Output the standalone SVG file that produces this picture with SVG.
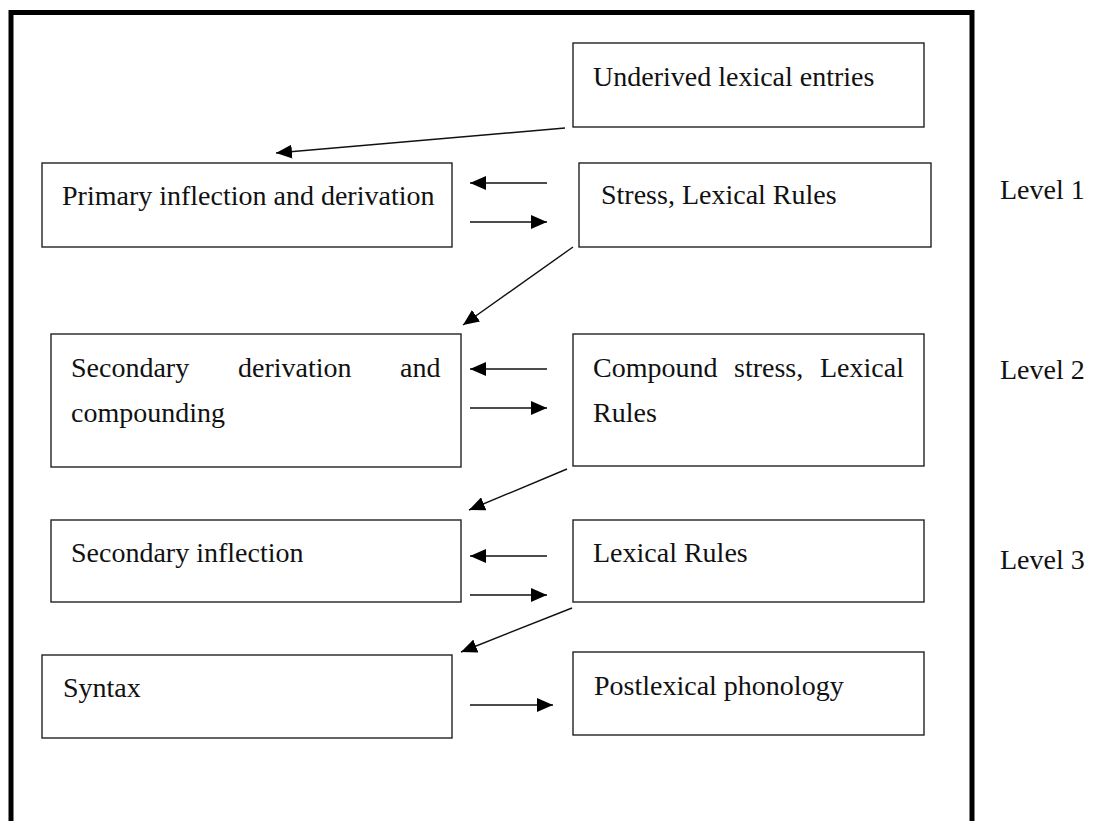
<svg xmlns="http://www.w3.org/2000/svg" width="1098" height="821" viewBox="0 0 1098 821">
  <style>
    .box { fill: #ffffff; stroke: #222222; stroke-width: 1.4; }
    .lbl { font-family: "Liberation Serif", "Times New Roman", serif; font-size: 28px; fill: #111111; }
    .conn { stroke: #111111; stroke-width: 1.4; fill: none; marker-end: url(#head); }
    .frame { fill: none; stroke: #000000; stroke-width: 5; }
  </style>
  <defs>
    <marker id="head" viewBox="0 0 16 14" refX="16" refY="7" markerWidth="16" markerHeight="14" markerUnits="userSpaceOnUse" orient="auto">
      <path d="M0,0 L16,7 L0,14 z" fill="#000000"/>
    </marker>
  </defs>

  <rect width="1098" height="821" fill="#ffffff"/>

  <!-- outer frame, open at the bottom -->
  <path class="frame" d="M11,830 V12.5 H972 V830"/>

  <!-- nodes -->
  <g id="underived">
    <rect class="box" x="573" y="43" width="351" height="84"/>
    <text class="lbl" x="593" y="86">Underived lexical entries</text>
  </g>
  <g id="primary">
    <rect class="box" x="42" y="163" width="410" height="84"/>
    <text class="lbl" x="62" y="205">Primary inflection and derivation</text>
  </g>
  <g id="stress">
    <rect class="box" x="579" y="163" width="352" height="84"/>
    <text class="lbl" x="601" y="204">Stress, Lexical Rules</text>
  </g>
  <g id="secondary-derivation">
    <rect class="box" x="51" y="334" width="410" height="133"/>
    <text class="lbl" y="377"><tspan x="71">Secondary</tspan><tspan x="238">derivation</tspan><tspan x="400">and</tspan></text>
    <text class="lbl" x="71" y="422">compounding</text>
  </g>
  <g id="compound-stress">
    <rect class="box" x="573" y="334" width="351" height="132"/>
    <text class="lbl" y="377"><tspan x="593">Compound</tspan><tspan x="734">stress,</tspan><tspan x="820">Lexical</tspan></text>
    <text class="lbl" x="593" y="422">Rules</text>
  </g>
  <g id="secondary-inflection">
    <rect class="box" x="51" y="520" width="410" height="82"/>
    <text class="lbl" x="71" y="562">Secondary inflection</text>
  </g>
  <g id="lexical-rules">
    <rect class="box" x="573" y="520" width="351" height="82"/>
    <text class="lbl" x="593" y="562">Lexical Rules</text>
  </g>
  <g id="syntax">
    <rect class="box" x="42" y="655" width="410" height="83"/>
    <text class="lbl" x="63" y="697">Syntax</text>
  </g>
  <g id="postlexical">
    <rect class="box" x="573" y="652" width="351" height="83"/>
    <text class="lbl" x="594" y="695">Postlexical phonology</text>
  </g>

  <!-- level labels -->
  <g id="levels">
    <text class="lbl" x="1000" y="199">Level 1</text>
    <text class="lbl" x="1000" y="379">Level 2</text>
    <text class="lbl" x="1000" y="569">Level 3</text>
  </g>

  <!-- connectors -->
  <g id="connectors">
    <line class="conn" x1="565" y1="128" x2="276" y2="153"/>
    <line class="conn" x1="547" y1="183" x2="470" y2="183"/>
    <line class="conn" x1="470" y1="222" x2="547" y2="222"/>
    <line class="conn" x1="573" y1="247" x2="463" y2="325"/>
    <line class="conn" x1="547" y1="369" x2="470" y2="369"/>
    <line class="conn" x1="470" y1="408" x2="547" y2="408"/>
    <line class="conn" x1="567" y1="469" x2="469" y2="510"/>
    <line class="conn" x1="547" y1="556" x2="470" y2="556"/>
    <line class="conn" x1="470" y1="595" x2="547" y2="595"/>
    <line class="conn" x1="572" y1="608" x2="461" y2="652"/>
    <line class="conn" x1="470" y1="705" x2="553" y2="705"/>
  </g>
</svg>
